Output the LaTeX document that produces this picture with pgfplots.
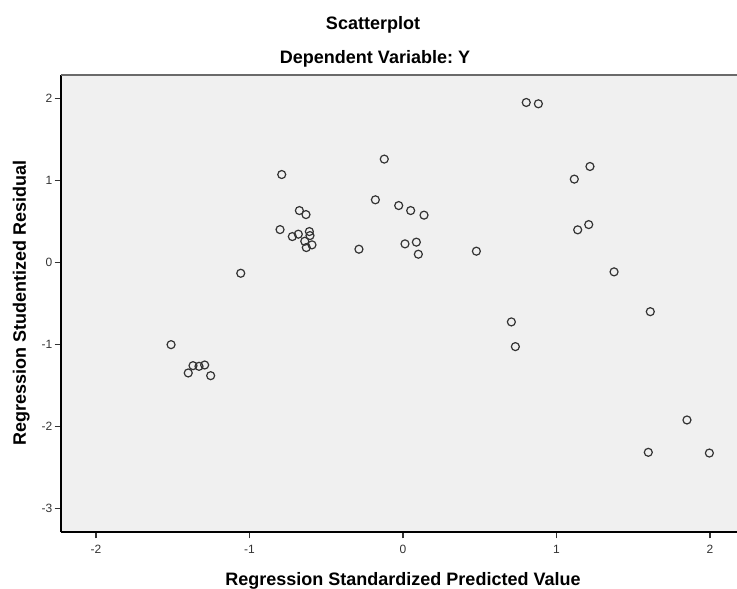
\documentclass[border=0pt]{standalone}
\usepackage{pgfplots}
\pgfplotsset{compat=1.18}
\usepackage{fontspec}
\setmainfont{Liberation Sans}
\frenchspacing
\definecolor{bgcol}{HTML}{F0F0F0}
\definecolor{markcol}{HTML}{333333}
\definecolor{tickcol}{HTML}{333333}
\definecolor{topcol}{HTML}{6A6A6A}
\pgfplotstableread{
x y
-1.511 -1.000
-1.399 -1.345
-1.368 -1.256
-1.329 -1.264
-1.292 -1.248
-1.253 -1.378
-1.057 -0.130
-0.790 1.073
-0.675 0.634
-0.632 0.585
-0.801 0.402
-0.721 0.317
-0.682 0.346
-0.610 0.378
-0.606 0.329
-0.640 0.260
-0.593 0.216
-0.630 0.183
-0.287 0.163
-0.122 1.261
-0.180 0.765
-0.028 0.695
0.050 0.634
0.137 0.578
0.013 0.228
0.087 0.249
0.100 0.102
0.478 0.139
0.803 1.951
0.882 1.935
1.218 1.171
1.116 1.017
1.210 0.463
1.138 0.399
1.375 -0.113
1.611 -0.598
0.706 -0.723
0.732 -1.024
1.850 -1.918
1.598 -2.312
1.996 -2.321
}\resid
\begin{document}
\begin{tikzpicture}[x=1pt,y=1pt]
\useasboundingbox (-45.75,-42) rectangle (507,399);
\begin{axis}[
  at={(0,0)}, anchor=south west,
  scale only axis, width=507pt, height=342.75pt,
  xmin=-2.228, xmax=2.176, ymin=-3.283, ymax=2.286,
  axis background/.style={fill=bgcol},
  axis x line*=bottom, axis y line*=left,
  axis line style={-, black, line width=1.1pt},
  tick align=outside, major tick length=4.8pt,
  tick style={tickcol, line width=0.8pt},
  xtick={-2,-1,0,1,2}, xticklabels={-2,-1,0,1,2},
  ytick={-3,-2,-1,0,1,2}, yticklabels={-3,-2,-1,0,1,2},
  ticklabel style={font=\fontsize{9pt}{10pt}\selectfont, text=tickcol},
  xticklabel style={inner sep=0pt, yshift=-5pt},
  yticklabel style={inner sep=0pt, xshift=-1.5pt},
  clip=false,
]
\addplot[only marks, mark=o, mark size=3pt, mark options={draw=markcol, line width=0.9pt}] table[x=x,y=y]{\resid};
\draw[topcol, line width=1.5pt] (rel axis cs:0,1) -- (rel axis cs:1,1);
\end{axis}
\node[anchor=base, font=\bfseries\fontsize{13.5pt}{16pt}\selectfont] at (234,376.5) {Scatterplot};
\node[anchor=base, font=\bfseries\fontsize{13.5pt}{16pt}\selectfont] at (235.5,351) {Dependent Variable: Y};
\node[anchor=base, font=\bfseries\fontsize{13.5pt}{16pt}\selectfont] at (256.5,-39.75) {Regression Standardized Predicted Value};
\node[anchor=base, rotate=90, font=\bfseries\fontsize{13.5pt}{16pt}\selectfont] at (-26.25,171.4) {Regression Studentized Residual};
\end{tikzpicture}
\end{document}
